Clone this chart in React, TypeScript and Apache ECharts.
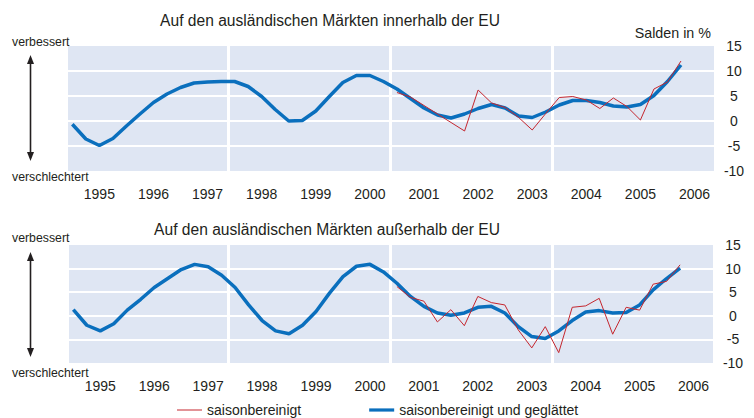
import { useEffect, useRef } from "react";
import * as echarts from "echarts";

const FONT = "'Liberation Sans', Arial, sans-serif";
const TEXT = "#231f20";

const firstYear = 1995;
const yearLabels = [1995, 1996, 1997, 1998, 1999, 2000, 2001, 2002, 2003, 2004, 2005, 2006];
const cycleMarks = [1997.875, 2000.875, 2003.875];
const yMin = -10;
const yMax = 15;
const yStep = 5;

// quarterly values, 1995 Q1 .. 2006 Q2
const innerSmoothed = [
  -0.65, -3.6, -4.9, -3.5, -1.0, 1.4, 3.7, 5.4, 6.7, 7.6,
  7.8, 7.9, 7.9, 6.9, 4.9, 2.3, 0.0, 0.1, 2.0, 4.9,
  7.7, 9.1, 9.1, 7.9, 6.4, 4.5, 2.6, 1.2, 0.6, 1.4,
  2.5, 3.3, 2.6, 1.0, 0.7, 1.8, 3.2, 4.1, 4.1, 3.7,
  3.0, 2.8, 3.3, 5.1, 7.9, 11.2,
];
const innerAdjusted = [
  null, null, null, null, null, null, null, null, null, null,
  null, null, null, null, null, null, null, null, null, null,
  null, null, null, null,
  5.7, 4.8, 3.1, 1.4, -0.3, -2.0, 6.2, 3.6, 2.7, 0.7,
  -1.8, 1.5, 4.7, 4.9, 4.2, 2.5, 4.6, 2.9, 0.2, 6.4,
  7.8, 12.0,
];
const outerSmoothed = [
  1.3, -2.0, -3.2, -1.7, 1.2, 3.5, 6.0, 7.9, 9.8, 10.9,
  10.4, 8.6, 6.0, 2.3, -1.0, -3.2, -3.8, -2.0, 0.9, 4.8,
  8.3, 10.5, 10.9, 9.3, 6.9, 4.1, 2.0, 0.6, 0.1, 0.6,
  1.8, 2.0, 0.6, -2.3, -4.4, -4.8, -3.2, -1.0, 0.8, 1.1,
  0.6, 0.7, 2.3, 5.5, 7.9, 10.1,
];
const outerAdjusted = [
  null, null, null, null, null, null, null, null, null, null,
  null, null, null, null, null, null, null, null, null, null,
  null, null, null, null,
  6.2, 3.9, 3.1, -1.3, 1.3, -2.1, 4.1, 2.8, 2.3, -3.0,
  -6.8, -2.3, -7.8, 1.8, 2.1, 3.7, -3.9, 1.8, 1.2, 6.7,
  7.3, 10.8,
];

const NAME_ADJ = "saisonbereinigt";
const NAME_SMOOTH = "saisonbereinigt und geglättet";
const TITLE_TOP = "Auf den ausländischen Märkten innerhalb der EU";
const TITLE_BOTTOM = "Auf den ausländischen Märkten außerhalb der EU";

const BLUE = "#0a6fbd";
const RED = "#c4262e";
const PLOT_BG = "#dfe6f3";

function toPairs(values: (number | null)[]) {
  return values.map((v, i) => [firstYear + i / 4, v]);
}

function xAxis(gridIndex: number) {
  return {
    type: "value",
    gridIndex,
    min: 1994.92,
    max: 2006.86,
    axisLine: { show: false },
    axisTick: { show: false, customValues: cycleMarks },
    splitLine: { show: true, lineStyle: { color: "#ffffff", width: 3 } },
    axisLabel: {
      customValues: yearLabels.map((y) => y + 0.5),
      formatter: (v: number) => String(Math.floor(v)),
      margin: 16,
      fontSize: 14,
      color: TEXT,
      fontFamily: FONT,
    },
  };
}

function yAxis(gridIndex: number) {
  return {
    type: "value",
    gridIndex,
    position: "right",
    min: yMin,
    max: yMax,
    interval: yStep,
    axisLine: { show: false },
    axisTick: { show: false },
    splitLine: {
      show: true,
      showMinLine: false,
      showMaxLine: false,
      lineStyle: { color: "#ffffff", width: 2 },
    },
    axisLabel: {
      margin: 20,
      align: "center",
      fontSize: 14,
      color: TEXT,
      fontFamily: FONT,
    },
  };
}

function arrow(x: number, y1: number, y2: number) {
  return [
    {
      type: "line",
      shape: { x1: x, y1: y1 + 4, x2: x, y2: y2 - 4 },
      style: { stroke: "#231f20", lineWidth: 1.6 },
    },
    {
      type: "polygon",
      shape: { points: [[x, y1], [x - 3.5, y1 + 9], [x + 3.5, y1 + 9]] },
      style: { fill: "#231f20" },
    },
    {
      type: "polygon",
      shape: { points: [[x, y2], [x - 3.5, y2 - 9], [x + 3.5, y2 - 9]] },
      style: { fill: "#231f20" },
    },
  ];
}

function label(text: string, x: number, y: number, size: number, align = "left") {
  return {
    type: "text",
    x,
    y,
    style: {
      text,
      fill: TEXT,
      font: `${size}px ${FONT}`,
      textAlign: align,
      textVerticalAlign: "middle",
    },
  };
}

export default function App() {
  const ref = useRef<HTMLDivElement>(null);
  useEffect(() => {
    if (!ref.current) return;
    const chart = echarts.init(ref.current, null, { renderer: "svg" });
    chart.setOption({
      animation: false,
      backgroundColor: "#ffffff",
      textStyle: { fontFamily: FONT },
      grid: [
        { left: 68, top: 46, width: 646, height: 125, show: true, backgroundColor: PLOT_BG, borderWidth: 0 },
        { left: 69, top: 245, width: 644, height: 118, show: true, backgroundColor: PLOT_BG, borderWidth: 0 },
      ],
      xAxis: [xAxis(0), xAxis(1)],
      yAxis: [yAxis(0), yAxis(1)],
      legend: {
        left: 172,
        top: 398,
        itemWidth: 25,
        itemHeight: 14,
        itemGap: 68,
        textStyle: { fontSize: 14, color: TEXT, fontFamily: FONT },
        data: [
          { name: NAME_ADJ, icon: "path://M0 0H25V1H0Z", itemStyle: { color: RED } },
          { name: NAME_SMOOTH, icon: "path://M0 0H25V3.2H0Z", itemStyle: { color: BLUE } },
        ],
      },
      series: [
        {
          name: NAME_SMOOTH, type: "line", xAxisIndex: 0, yAxisIndex: 0,
          data: toPairs(innerSmoothed), symbol: "none", z: 3,
          lineStyle: { color: BLUE, width: 3.5 }, itemStyle: { color: BLUE },
        },
        {
          name: NAME_ADJ, type: "line", xAxisIndex: 0, yAxisIndex: 0,
          data: toPairs(innerAdjusted), symbol: "none", z: 4,
          lineStyle: { color: RED, width: 1 }, itemStyle: { color: RED },
        },
        {
          name: NAME_SMOOTH, type: "line", xAxisIndex: 1, yAxisIndex: 1,
          data: toPairs(outerSmoothed), symbol: "none", z: 3,
          lineStyle: { color: BLUE, width: 3.5 }, itemStyle: { color: BLUE },
        },
        {
          name: NAME_ADJ, type: "line", xAxisIndex: 1, yAxisIndex: 1,
          data: toPairs(outerAdjusted), symbol: "none", z: 4,
          lineStyle: { color: RED, width: 1 }, itemStyle: { color: RED },
        },
      ],
      graphic: [
        label(TITLE_TOP, 330, 20, 15.6, "center"),
        label("Salden in %", 711, 33, 14.3, "right"),
        label("verbessert", 12, 42, 12.3),
        label("verschlechtert", 12, 177, 12.3),
        ...arrow(30.5, 55, 161),
        label(TITLE_BOTTOM, 327, 229, 15.6, "center"),
        label("verbessert", 12, 238, 12.3),
        label("verschlechtert", 12, 373, 12.3),
        ...arrow(30.5, 252, 357),
      ],
    });
    return () => chart.dispose();
  }, []);
  return (
    <div
      ref={ref}
      style={{ position: "absolute", left: 0, top: 0, width: 754, height: 418 }}
    />
  );
}
